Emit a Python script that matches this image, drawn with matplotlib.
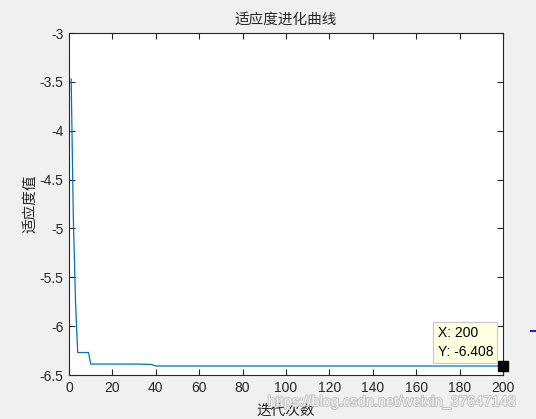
import matplotlib
matplotlib.use("Agg")
import matplotlib.pyplot as plt
import matplotlib.patheffects as pe

# data (breakpoints of the plotted curve)
generations = [1, 2, 3, 4, 9, 10, 31, 38, 40, 200]
fitness = [-3.47, -4.9, -5.75, -6.27, -6.27, -6.388, -6.388, -6.392, -6.408, -6.408]
xticks = list(range(0, 201, 20))
yticks = [-6.5, -6, -5.5, -5, -4.5, -4, -3.5, -3]
ytick_labels = ["-6.5", "-6", "-5.5", "-5", "-4.5", "-4", "-3.5", "-3"]
tip_x, tip_y = 200, -6.408

plt.rcParams['font.family'] = ['Liberation Sans', 'Noto Sans CJK SC', 'DejaVu Sans']
cjk = ['Noto Sans CJK SC', 'DejaVu Sans']

fig = plt.figure(figsize=(5.36, 4.19), dpi=100, facecolor='#f0f0f0')
ax = fig.add_axes([69/536, 44/419, 434/536, 342/419])
ax.set_facecolor('white')

ax.plot(generations, fitness, color='#0072BD', linewidth=0.9)
ax.plot([tip_x], [tip_y], marker='s', color='black', markersize=7, clip_on=False, zorder=5)

ax.set_xlim(0, 200)
ax.set_ylim(-6.5, -3)
ax.set_xticks(xticks)
ax.set_yticks(yticks)
ax.set_yticklabels(ytick_labels)
ax.tick_params(direction='in', length=4, width=0.8, top=True, right=True,
               labelsize=10, colors='#262626', pad=4)
for s in ax.spines.values():
    s.set_color('#262626')
    s.set_linewidth(0.8)

ax.set_title('适应度进化曲线', family=cjk, fontsize=10.5, color='#262626', pad=7)
ax.set_xlabel('迭代次数', family=cjk, fontsize=10.5, color='#262626', labelpad=7)
ax.set_ylabel('适应度值', family=cjk, fontsize=10.5, color='#262626', labelpad=2)

# data tip
ax.annotate(f'X: {tip_x}\nY: {tip_y}', xy=(tip_x, tip_y), xytext=(-7.2, 5),
            textcoords='offset points', fontsize=10, color='black', ha='right', va='bottom',
            multialignment='left', linespacing=1.45,
            bbox=dict(boxstyle='square,pad=0.3', facecolor='#ffffe1', edgecolor='#c8c8c8', linewidth=0.8),
            zorder=6)

# small stray mark at right edge
fig.lines.append(plt.Line2D([531/536, 536/536], [1 - 331/419, 1 - 331/419],
                            transform=fig.transFigure, color='#2020e0', linewidth=1.5))

# watermark
fig.text(392.5/536, 1 - 402/419, 'https://blog.csdn.net/weixin_37647148', fontsize=10.5,
         color='#f6f6f6', ha='center', va='center',
         path_effects=[pe.withStroke(linewidth=1.4, foreground='#c4c4c4')])

fig.savefig('out.png', dpi=100, facecolor=fig.get_facecolor())
